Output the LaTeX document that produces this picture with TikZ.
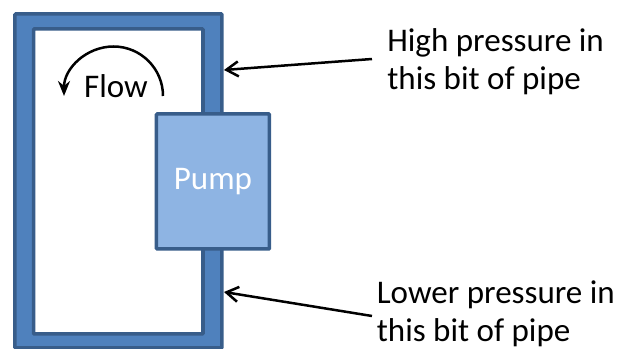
\documentclass[tikz,border=0pt]{standalone}
\usepackage{fontspec}
\setmainfont{Carlito}
\usetikzlibrary{arrows.meta}
\definecolor{pipeblue}{HTML}{4F81BD}
\definecolor{pipeedge}{HTML}{385D8A}
\definecolor{pumpblue}{HTML}{8EB4E3}
\tikzset{
  box/.style={draw=pipeedge,line width=.07cm,rectangle,inner sep=0pt,rounded corners=.5pt},
  note/.style={anchor=west,align=left,inner sep=0pt,font=\fontsize{18.8}{21.7}\selectfont},
}
\begin{document}
\begin{tikzpicture}[>={Straight Barb[length=2.4mm,width=3mm]}]
\useasboundingbox (0,0) rectangle (12.34,6.98);
\node[box,fill=pipeblue,minimum width=4.14cm,minimum height=6.68cm](pipe) at (2.37,3.36){};
\node[box,fill=white,minimum width=3.39cm,minimum height=6.1cm](hole) at (2.365,3.35){};
\node[box,fill=pumpblue,minimum width=2.26cm,minimum height=2.7cm,text=white,font=\fontsize{18.8}{21.7}\selectfont](pump) at (4.26,3.35){\raisebox{-3pt}{Pump}};
\node[font=\fontsize{18.8}{21.7}\selectfont](flow) at (2.32,5.26){Flow};
\draw[-{Stealth[length=3mm,width=2.4mm]},line width=.05cm](3.26,5.06) arc (0:180:.99);

\node[note](high) at (7.74,5.74){High pressure in\\this bit of pipe};
\node[note](low) at (7.53,.71){Lower pressure in\\this bit of pipe};
\coordinate(hightail) at (7.44,5.8);
\coordinate(highhead) at (4.48,5.58);
\coordinate(lowtail) at (7.44,.66);
\coordinate(lowhead) at (4.48,1.14);
\draw[->,line width=.05cm](hightail)--(highhead);
\draw[->,line width=.05cm](lowtail)--(lowhead);
\end{tikzpicture}
\end{document}
